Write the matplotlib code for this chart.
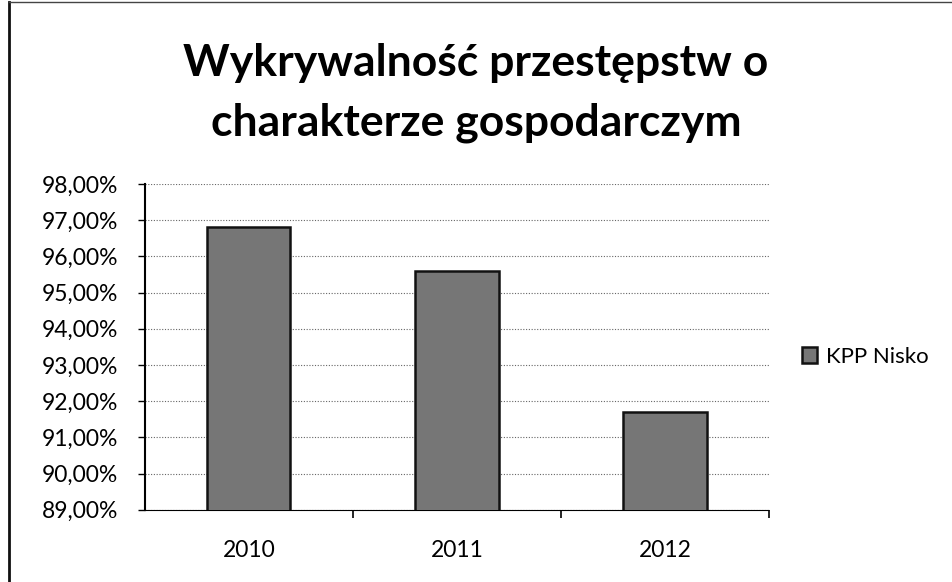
import numpy as np
import matplotlib.pyplot as plt
from matplotlib.lines import Line2D
from matplotlib.ticker import FuncFormatter, FixedLocator

years = ['2010', '2011', '2012']
values = [96.81, 95.60, 91.70]
series_name = 'KPP Nisko'
title = 'Wykrywalność przestępstw o\ncharakterze gospodarczym'

Y_MIN = 89
Y_MAX = 98

plt.rcParams['font.family'] = ['Lato', 'DejaVu Sans']

fig = plt.figure(figsize=(9.52, 5.82), dpi=100)
# chart-area border (only left and top edges are visible in the scan)
fig.add_artist(Line2D([0.009, 0.009], [0.0, 0.997], transform=fig.transFigure,
                      color='#111111', linewidth=2))
fig.add_artist(Line2D([0.009, 1.0], [0.997, 0.997], transform=fig.transFigure,
                      color='#444444', linewidth=1))

ax = fig.add_axes([0.152, 0.124, 0.656, 0.56])

x = np.arange(len(years))
bars = ax.bar(x, values, width=0.4, bottom=0, color='#767676',
              edgecolor='#111111', linewidth=1.8, label=series_name, zorder=3)

ax.set_xlim(-0.5, len(years) - 0.5)
ax.set_ylim(Y_MIN, Y_MAX)
ax.set_yticks(np.arange(Y_MIN, Y_MAX + 1, 1))
ax.yaxis.set_major_formatter(FuncFormatter(lambda v, _: f'{v:.2f}%'.replace('.', ',')))
ax.grid(axis='y', linestyle=(0, (1, 1.5)), color='#666666', linewidth=0.8, zorder=0)

# category labels centred, tick marks between categories
ax.set_xticks(x)
ax.set_xticklabels(years)
ax.xaxis.set_minor_locator(FixedLocator(np.arange(0.5, len(years), 1)))
ax.tick_params(axis='x', which='major', length=0, pad=22, labelsize=16.5)
ax.tick_params(axis='x', which='minor', length=6, direction='out', width=1.2)
ax.tick_params(axis='y', length=5, direction='out', pad=14, labelsize=16.5, width=1)

for s in ['top', 'right']:
    ax.spines[s].set_visible(False)
ax.spines['left'].set_linewidth(1.5)
ax.spines['bottom'].set_linewidth(0.8)
ax.spines['bottom'].set_linestyle((0, (1, 1)))

fig.text(0.5, 0.84, title, ha='center', va='center', fontsize=32,
         fontweight='bold', linespacing=1.6)

leg = ax.legend(loc='center left', bbox_to_anchor=(1.02, 0.47), frameon=False,
                fontsize=16, handlelength=0.7, handleheight=0.7, handletextpad=0.4)

fig.savefig('out.png', dpi=100)
